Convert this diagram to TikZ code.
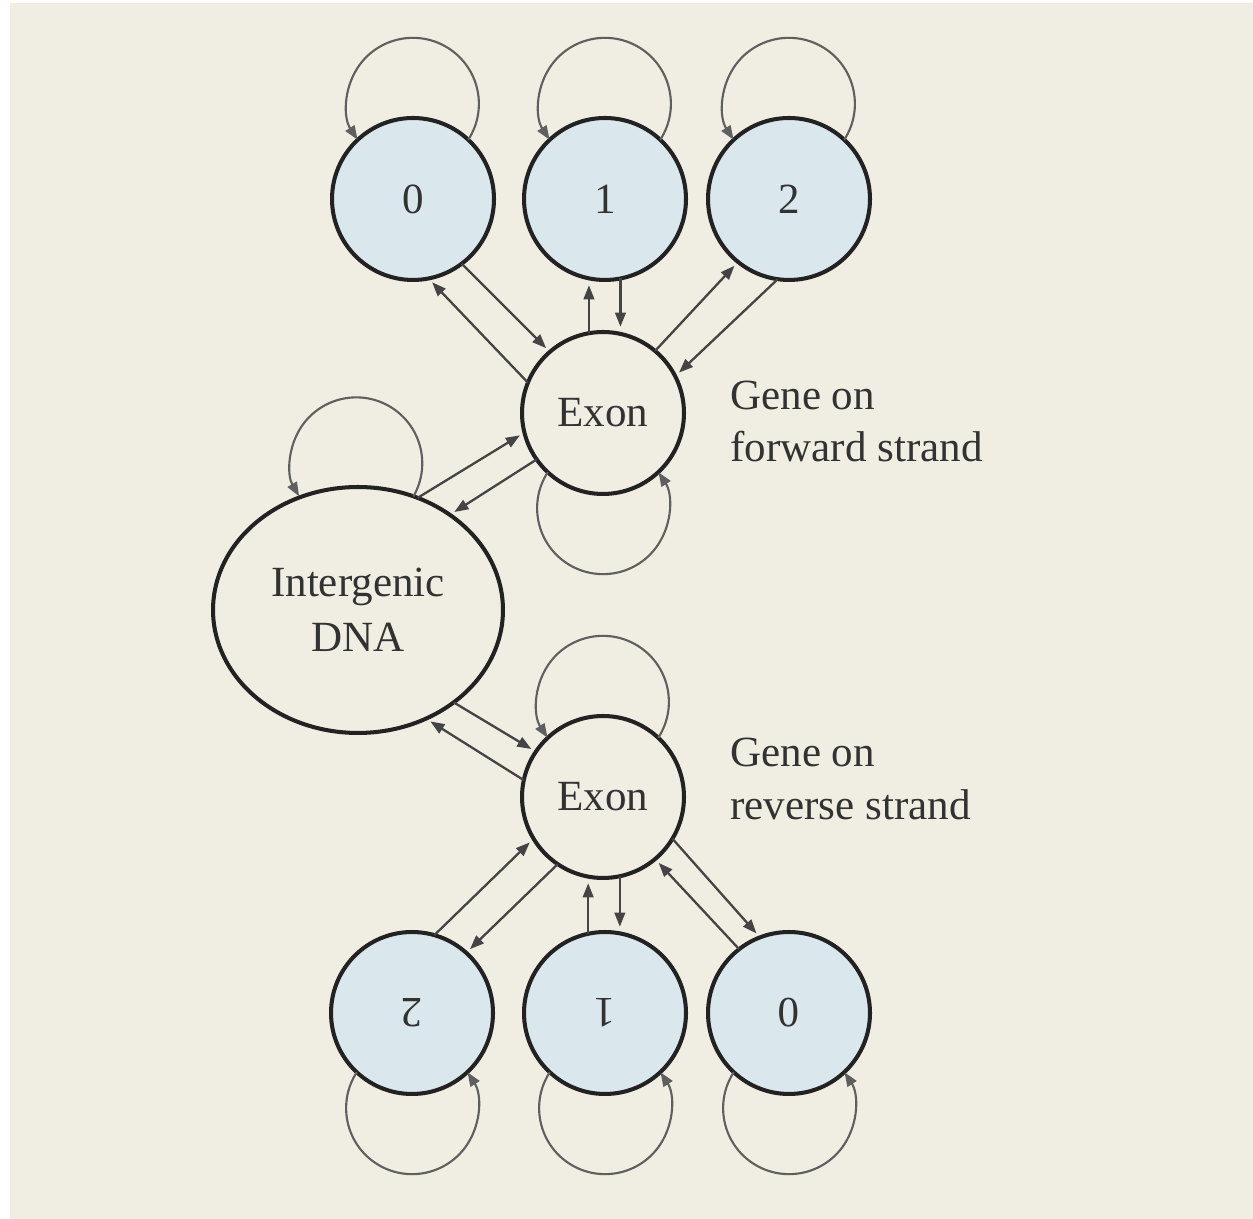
\documentclass[tikz,border=0pt]{standalone}
\usepackage{fontspec}
\setmainfont{Liberation Serif}
\usetikzlibrary{shapes.geometric,arrows.meta,calc}

\definecolor{paper}{RGB}{240,237,226}
\definecolor{statefill}{RGB}{218,232,238}
\definecolor{rim}{RGB}{34,34,34}
\definecolor{wire}{RGB}{68,68,68}
\definecolor{selfwire}{RGB}{95,95,95}
\definecolor{ink}{RGB}{50,50,50}

\begin{document}
\begin{tikzpicture}[x=0.02cm,y=0.02cm,
  every node/.style={font=\fontsize{24.5}{31}\selectfont, text=ink},
  state/.style={circle, draw=rim, line width=2.3pt, minimum size=3.24cm,
                inner sep=0pt, outer sep=0pt},
  codon/.style={state, fill=statefill},
  exon/.style={state, fill=paper},
  igstate/.style={ellipse, draw=rim, line width=2.3pt, fill=paper,
                  minimum width=5.8cm, minimum height=4.92cm,
                  inner sep=0pt, outer sep=0pt, align=center},
  caption/.style={anchor=base west, inner sep=0pt},
  conn/.style={draw=wire, line width=1.3pt,
               -{Triangle[length=8pt,width=6pt]}, shorten >=3pt},
  selfloop/.style={draw=selfwire, line width=1.2pt,
                   -{Triangle[length=8pt,width=6pt]}},
]
\useasboundingbox (0,0) rectangle (1253,1219);
\fill[paper] (10,0) rectangle (1253,1216);

% states of the gene on the forward strand
\node[codon] (c0) at (413,1020) {0};
\node[codon] (c1) at (605,1020) {1};
\node[codon] (c2) at (789,1020) {2};
\node[exon]  (e1) at (603,806) {Exon};

% intergenic region
\node[igstate] (ig) at (358,609) {Intergenic\\DNA};

% states of the gene on the reverse strand
\node[exon]  (e2) at (603,422) {Exon};
\node[codon] (b2) at (412,206) {\rotatebox{180}{2}};
\node[codon] (b1) at (605,206) {\rotatebox{180}{1}};
\node[codon] (b0) at (789,206) {\rotatebox{180}{0}};

% strand captions
\node[caption] (fwdA) at (730,809) {Gene on};
\node[caption] (fwdB) at (730,757) {forward strand};
\node[caption] (revA) at (730,452) {Gene on};
\node[caption] (revB) at (730,399) {reverse strand};

% self transitions
\foreach \s in {c0,c1,c2,e2}
  \draw[selfloop] (\s.47) arc[start angle=-33, end angle=213, radius=1.32cm];
\foreach \s in {e1,b2,b1,b0}
  \draw[selfloop] (\s.-133) arc[start angle=147, end angle=393, radius=1.32cm];
\draw[selfloop] (ig.64) arc[start angle=-30, end angle=210, radius=1.32cm];

% forward strand transitions
\draw[conn] (e1.158) -- (c0.281);
\draw[conn] (c0.-53) -- (e1.131);
\draw[conn] (e1.100) -- (e1.100 |- c1.south);
\draw[conn] (c1.-79) -- (c1.-79 |- e1.north);
\draw[conn] (e1.50) -- (c2.231);
\draw[conn] (c2.262) -- (e1.27);

% intergenic <-> exons
\draw[conn] (ig.62) -- (e1.194);
\draw[conn] (e1.215) -- (ig.46);
\draw[conn] (ig.-44) -- (e2.146);
\draw[conn] (e2.168) -- (ig.-58);

% reverse strand transitions
\draw[conn] (b2.74) -- (e2.211);
\draw[conn] (e2.236) -- (b2.48);
\draw[conn] (b1.102) -- (b1.102 |- e2.south);
\draw[conn] (e2.-78) -- (e2.-78 |- b1.north);
\draw[conn] (e2.-31) -- (b0.111);
\draw[conn] (b0.128) -- (e2.-50);
\end{tikzpicture}
\end{document}
